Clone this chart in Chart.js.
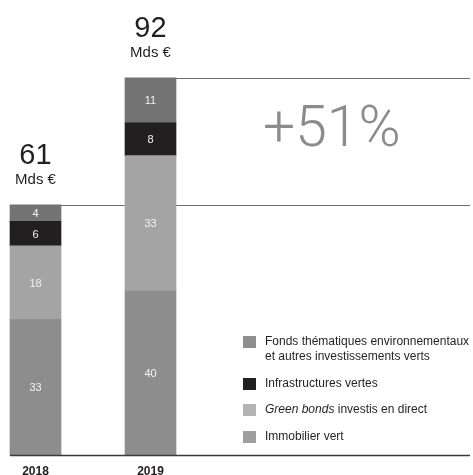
<!DOCTYPE html>
<html>
<head>
<meta charset="utf-8">
<script src="https://cdn.jsdelivr.net/npm/chart.js@4.4.0/dist/chart.umd.min.js"></script>
<style>
  html, body { margin: 0; padding: 0; background: #fff; }
  #wrap { position: relative; width: 473px; height: 475px; overflow: hidden; }
  #legend { position: absolute; left: 243px; top: 334px; font-family: "Liberation Sans", Arial, sans-serif; font-size: 12px; color: #231f20; }
  .item { position: relative; padding-left: 22px; line-height: 15px; margin-bottom: 11.5px; }
  .box { position: absolute; left: 0; top: 2px; width: 13px; height: 12px; }
</style>
</head>
<body>
<div id="wrap">
  <canvas id="chart" width="473" height="475"></canvas>
  <div id="legend"></div>
</div>
<script>
// Données
const years = ['2018', '2019'];
const immobilier = [33, 40];
const greenBonds = [18, 33];
const infrastructures = [6, 8];
const fonds = [4, 11];

const seriesNames = ['Immobilier vert', '<i>Green bonds</i> investis en direct', 'Infrastructures vertes',
    'Fonds thématiques environnementaux<br>et autres investissements verts'];
const barColors = ['#8d8d8d', '#a4a4a4', '#231f20', '#737373'];
const legendColors = ['#9e9e9e', '#b4b4b4', '#231f20', '#8e8e90'];

const totals = years.map((y, i) => immobilier[i] + greenBonds[i] + infrastructures[i] + fonds[i]);
const growth = Math.round((totals[1] - totals[0]) / totals[0] * 100);

const FONT = '"Liberation Sans", Arial, sans-serif';

// Lignes, totaux et valeurs
const decor = {
    id: 'decor',
    beforeDatasetsDraw(chart) {
        const c = chart.ctx;
        const y = chart.scales.y;
        const x = chart.scales.x;
        c.save();
        c.strokeStyle = '#6e6e6e';
        c.lineWidth = 1.2;
        // ligne au niveau du total 2018
        let py = Math.round(y.getPixelForValue(totals[0])) + 0.5;
        c.beginPath(); c.moveTo(10, py); c.lineTo(470, py); c.stroke();
        // ligne au niveau du total 2019
        py = Math.round(y.getPixelForValue(totals[1])) + 0.5;
        c.beginPath(); c.moveTo(x.getPixelForValue(1) - 25.5, py); c.lineTo(470, py); c.stroke();
        c.restore();
    },
    afterDatasetsDraw(chart) {
        const c = chart.ctx;
        const y = chart.scales.y;
        const x = chart.scales.x;
        c.save();
        // axe
        const base = y.getPixelForValue(0);
        c.strokeStyle = '#3a3a3a';
        c.lineWidth = 1.5;
        c.beginPath(); c.moveTo(10, base + 0.5); c.lineTo(470, base + 0.5); c.stroke();

        // valeurs dans les segments
        c.fillStyle = '#f2f2f2';
        c.font = '11px ' + FONT;
        c.textAlign = 'center';
        c.textBaseline = 'middle';
        chart.data.datasets.forEach((ds, di) => {
            chart.getDatasetMeta(di).data.forEach((bar, i) => {
                c.fillText(ds.data[i], bar.x, (bar.y + bar.base) / 2 + 1);
            });
        });

        // totaux
        c.fillStyle = '#231f20';
        c.textBaseline = 'alphabetic';
        years.forEach((yr, i) => {
            const top = y.getPixelForValue(totals[i]);
            const cx = x.getPixelForValue(i);
            c.font = '29px ' + FONT;
            c.fillText(totals[i], cx, top - 41);
            c.font = '15px ' + FONT;
            c.fillText('Mds €', cx, top - 21);
            c.font = 'bold 12px ' + FONT;
            c.fillText(yr, cx, base + 20);
        });

        // progression
        c.fillStyle = '#8b8b8e';
        c.font = '300 57px Roboto, ' + FONT;
        c.textAlign = 'left';
        c.fillText('+' + growth + '%', 263, 146);
        c.restore();
    }
};

const ctx = document.getElementById('chart').getContext('2d');
const chart = new Chart(ctx, {
    type: 'bar',
    data: {
        labels: years,
        datasets: [
            { label: 'Immobilier vert', data: immobilier, backgroundColor: barColors[0] },
            { label: 'Green bonds investis en direct', data: greenBonds, backgroundColor: barColors[1] },
            { label: 'Infrastructures vertes', data: infrastructures, backgroundColor: barColors[2] },
            { label: 'Fonds thématiques environnementaux et autres investissements verts', data: fonds, backgroundColor: barColors[3] }
        ]
    },
    options: {
        responsive: false,
        animation: false,
        layout: { padding: { left: 35.5, right: 322.5, top: 45, bottom: 20 } },
        datasets: { bar: { barThickness: 51, clip: false, borderWidth: 0 } },
        plugins: { legend: { display: false }, tooltip: { enabled: false } },
        scales: {
            x: { stacked: true, display: false, offset: false },
            y: { stacked: true, display: false, min: 0, max: 100 }
        }
    },
    plugins: [decor]
});

// Légende
const legend = document.getElementById('legend');
for (let i = seriesNames.length - 1; i >= 0; i--) {
    const item = document.createElement('div');
    item.className = 'item';
    item.innerHTML = '<span class="box" style="background:' + legendColors[i] + '"></span>' + seriesNames[i];
    legend.appendChild(item);
}
</script>
</body>
</html>
